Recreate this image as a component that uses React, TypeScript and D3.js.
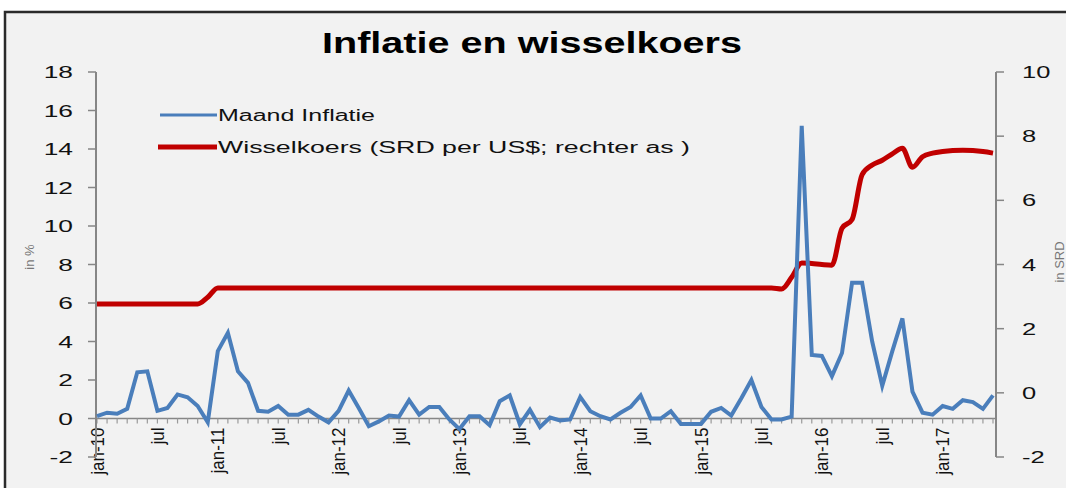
import React from 'react';
import * as d3 from 'd3';

// Months Jan-2010 .. Jun-2017 (category axis)
const months: string[] = d3
  .timeMonths(new Date(2010, 0, 1), new Date(2017, 6, 1))
  .map((d) => d3.timeFormat('%Y-%m')(d));

// Maand Inflatie (%), left axis
const inflation: number[] = [
  // 2010
  0.12, 0.3, 0.25, 0.5, 2.4, 2.45, 0.4, 0.55, 1.25, 1.1, 0.65, -0.2,
  // 2011
  3.5, 4.45, 2.45, 1.85, 0.4, 0.35, 0.65, 0.2, 0.2, 0.45, 0.1, -0.2,
  // 2012
  0.4, 1.45, 0.55, -0.4, -0.15, 0.15, 0.1, 0.95, 0.2, 0.6, 0.6, -0.05,
  // 2013
  -0.55, 0.12, 0.12, -0.35, 0.9, 1.2, -0.3, 0.45, -0.45, 0.05, -0.1, -0.05,
  // 2014
  1.12, 0.38, 0.12, -0.05, 0.3, 0.6, 1.2, 0.0, 0.0, 0.38, -0.28, -0.28,
  // 2015
  -0.28, 0.35, 0.55, 0.15, 1.05, 2.0, 0.6, -0.05, -0.05, 0.1, 15.2, 3.3,
  // 2016
  3.25, 2.2, 3.4, 7.05, 7.05, 4.0, 1.7, 3.5, 5.2, 1.4, 0.3, 0.2,
  // 2017
  0.65, 0.5, 0.95, 0.85, 0.5, 1.2,
];

// Wisselkoers (SRD per US$), right axis
const exchangeRate: number[] = [
  // 2010
  2.77, 2.77, 2.77, 2.77, 2.77, 2.77, 2.77, 2.77, 2.77, 2.77, 2.77, 2.98,
  // 2011
  3.27, 3.27, 3.27, 3.27, 3.27, 3.27, 3.27, 3.27, 3.27, 3.27, 3.27, 3.27,
  // 2012
  3.27, 3.27, 3.27, 3.27, 3.27, 3.27, 3.27, 3.27, 3.27, 3.27, 3.27, 3.27,
  // 2013
  3.27, 3.27, 3.27, 3.27, 3.27, 3.27, 3.27, 3.27, 3.27, 3.27, 3.27, 3.27,
  // 2014
  3.27, 3.27, 3.27, 3.27, 3.27, 3.27, 3.27, 3.27, 3.27, 3.27, 3.27, 3.27,
  // 2015
  3.27, 3.27, 3.27, 3.27, 3.27, 3.27, 3.27, 3.27, 3.24, 3.6, 4.05, 4.03,
  // 2016
  4.0, 3.98, 5.13, 5.4, 6.8, 7.1, 7.25, 7.45, 7.62, 7.03, 7.36, 7.47,
  // 2017
  7.52, 7.55, 7.56, 7.55, 7.52, 7.47,
];

const xTickLabels = [
  'jan-10', 'jul', 'jan-11', 'jul', 'jan-12', 'jul', 'jan-13', 'jul',
  'jan-14', 'jul', 'jan-15', 'jul', 'jan-16', 'jul', 'jan-17',
];
const leftTicks = [-2, 0, 2, 4, 6, 8, 10, 12, 14, 16, 18];
const rightTicks = [-2, 0, 2, 4, 6, 8, 10];

const title = 'Inflatie en wisselkoers';
const legendLabels = ['Maand Inflatie', 'Wisselkoers (SRD per US$; rechter as )'];

const W = 1066;
const H = 488;
const BLUE = '#4a7ebb';
const RED = '#c00000';
const AXIS = '#868686';
const FONT = '"Liberation Sans", Arial, sans-serif';

export default function App() {
  const x = d3.scalePoint<string>().domain(months).range([97, 993]);
  const yL = d3.scaleLinear().domain([-2, 18]).range([457, 72]);
  const yR = d3.scaleLinear().domain([-2, 10]).range([457, 72]);

  const blueLine = d3
    .line<number>()
    .x((_, i) => x(months[i]) as number)
    .y((d) => yL(d));
  const redLine = d3
    .line<number>()
    .x((_, i) => x(months[i]) as number)
    .y((d) => yR(d))
    .curve(d3.curveMonotoneX);

  const axL = 96;
  const axR = 996;
  const y0 = yL(0);

  return (
    <svg
      width={W}
      height={H}
      style={{ position: 'absolute', left: 0, top: 0, background: '#fff' }}
      fontFamily={FONT}
    >
      {/* chart area with border */}
      <rect x={5} y={12} width={1080} height={500} fill="#f2f2f2" stroke="#2b2b2b" strokeWidth={2.5} />

      {/* title */}
      <text x={322} y={53} fontSize={29} fontWeight="bold" textLength={420} lengthAdjust="spacingAndGlyphs" fill="#000">
        {title}
      </text>

      {/* x axis line and monthly ticks */}
      <line x1={axL} x2={axR} y1={y0} y2={y0} stroke={AXIS} strokeWidth={1.5} />
      {months.map((m) => (
        <line key={m} x1={x(m)} x2={x(m)} y1={y0} y2={y0 + 5} stroke="#9a9a9a" strokeWidth={1.2} />
      ))}
      {xTickLabels.map((lab, i) => {
        const px = x(months[i * 6]) as number;
        return (
          <text
            key={i}
            transform={`translate(${px},${y0 + 9}) scale(1.1,1) rotate(-90)`}
            textAnchor="end"
            dy="0.35em"
            fontSize={17}
            fill="#111"
          >
            {lab}
          </text>
        );
      })}

      {/* left axis */}
      <line x1={axL} x2={axL} y1={yL(18)} y2={yL(-2)} stroke={AXIS} strokeWidth={2} />
      {leftTicks.map((t) => (
        <g key={t}>
          <line x1={axL - 8} x2={axL} y1={yL(t)} y2={yL(t)} stroke={AXIS} strokeWidth={1.5} />
          <text
            transform={`translate(73,${yL(t)}) scale(1.55,1)`}
            textAnchor="end"
            dy="0.36em"
            fontSize={17}
            fill="#111"
          >
            {t}
          </text>
        </g>
      ))}
      <text transform={`translate(34,257) rotate(-90)`} textAnchor="middle" fontSize={13} fill="#777">
        in %
      </text>

      {/* right axis */}
      <line x1={axR} x2={axR} y1={yR(10)} y2={yR(-2)} stroke={AXIS} strokeWidth={2} />
      {rightTicks.map((t) => (
        <g key={t}>
          <line x1={axR} x2={axR + 8} y1={yR(t)} y2={yR(t)} stroke={AXIS} strokeWidth={1.5} />
          <text
            transform={`translate(1022,${yR(t)}) scale(1.5,1)`}
            textAnchor="start"
            dy="0.36em"
            fontSize={17}
            fill="#111"
          >
            {t}
          </text>
        </g>
      ))}
      <text transform={`translate(1064,262) rotate(-90)`} textAnchor="middle" fontSize={13} fill="#777">
        in SRD
      </text>

      {/* series */}
      <path d={redLine(exchangeRate) || ''} fill="none" stroke={RED} strokeWidth={5} strokeLinejoin="round" />
      <path d={blueLine(inflation) || ''} fill="none" stroke={BLUE} strokeWidth={4} strokeLinejoin="miter" />

      {/* legend */}
      <line x1={160} x2={217} y1={115} y2={115} stroke={BLUE} strokeWidth={3} />
      <text x={218} y={121} fontSize={16} fill="#111" textLength={157} lengthAdjust="spacingAndGlyphs">
        {legendLabels[0]}
      </text>
      <line x1={158} x2={217} y1={147} y2={147} stroke={RED} strokeWidth={5} />
      <text x={218} y={153} fontSize={16} fill="#111" textLength={472} lengthAdjust="spacingAndGlyphs">
        {legendLabels[1]}
      </text>
    </svg>
  );
}
